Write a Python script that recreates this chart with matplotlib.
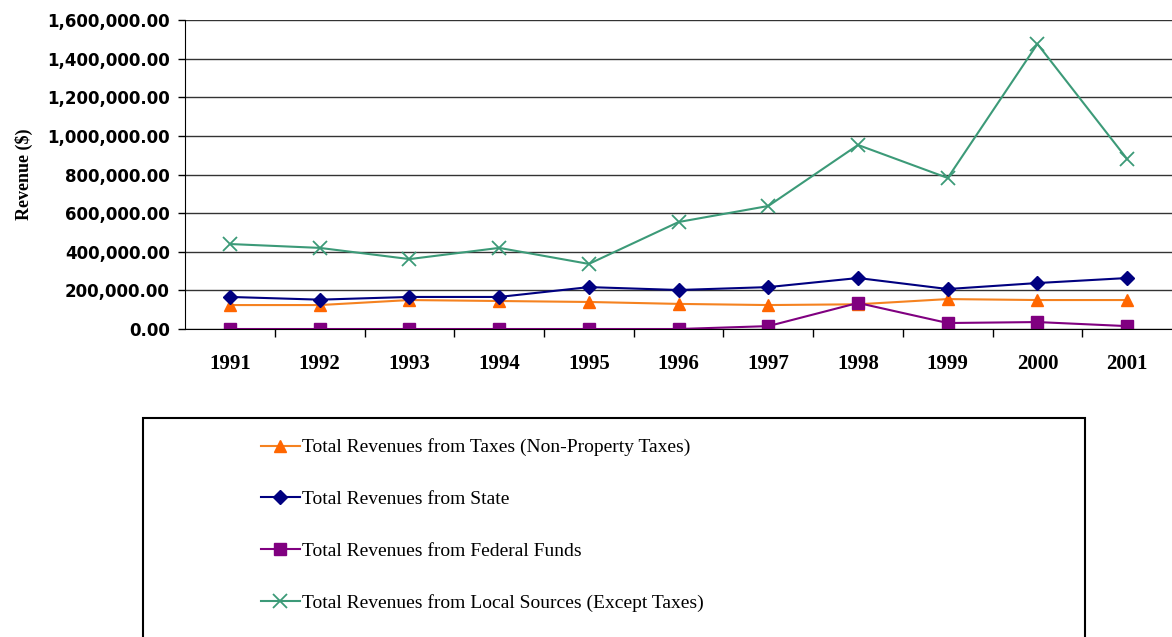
import matplotlib.pyplot as plt
from matplotlib.patches import Rectangle
from matplotlib.ticker import FuncFormatter, FixedLocator

years = ["1991", "1992", "1993", "1994", "1995", "1996", "1997", "1998", "1999", "2000", "2001"]

taxes = [124000, 124000, 150000, 145000, 140000, 130000, 124000, 128000, 155000, 150000, 150000]
state = [166000, 152000, 166000, 166000, 217000, 202000, 217000, 264000, 207000, 238000, 264000]
federal = [0, 0, 0, 0, 0, 0, 15000, 135000, 31000, 36000, 15000]
local = [440000, 420000, 362000, 420000, 337000, 554000, 637000, 953000, 782000, 1476000, 880000]

labels = [
    "Total Revenues from Taxes (Non-Property Taxes)",
    "Total Revenues from State",
    "Total Revenues from Federal Funds",
    "Total Revenues from Local Sources (Except Taxes)",
]

fig = plt.figure(figsize=(11.72, 6.37), dpi=100)
ax = fig.add_axes([0.158, 0.4835, 0.842, 0.4851])

x = range(len(years))
ax.plot(x, taxes, color="#F58220", marker="^", markersize=8, markerfacecolor="#FF6600",
        markeredgecolor="#FF6600", linewidth=1.5, label=labels[0])
ax.plot(x, state, color="#000080", marker="D", markersize=7, linewidth=1.5, label=labels[1])
ax.plot(x, federal, color="#800080", marker="s", markersize=8, linewidth=1.5, label=labels[2])
ax.plot(x, local, color="#3C9A78", marker="x", markersize=10, markeredgewidth=1.3,
        linewidth=1.5, label=labels[3])

ax.set_xlim(-0.5, len(years) - 0.5)
ax.set_ylim(0, 1600000)
ax.set_yticks(range(0, 1600001, 200000))
ax.yaxis.set_major_formatter(FuncFormatter(lambda v, p: f"{v:,.2f}"))
ax.grid(axis="y", color="#333333", linewidth=1)
ax.set_axisbelow(True)

ax.set_xticks(list(x))
ax.set_xticklabels(years, family="Liberation Serif", fontweight="bold", fontsize=15)
ax.xaxis.set_minor_locator(FixedLocator([i + 0.5 for i in range(len(years) - 1)]))
ax.tick_params(axis="x", which="major", length=0, pad=18)
ax.tick_params(axis="x", which="minor", length=6, width=1, direction="out")
ax.tick_params(axis="y", length=5, width=1, direction="out", pad=6)
for t in ax.get_yticklabels():
    t.set_fontweight("bold")
    t.set_fontsize(12)

for side in ["top", "right"]:
    ax.spines[side].set_visible(False)
ax.spines["left"].set_color("black")
ax.spines["bottom"].set_color("black")

ax.set_ylabel("Revenue ($)", family="Liberation Serif", fontweight="bold", fontsize=13, labelpad=10)

# legend box sits below the plot and runs off the bottom edge
fig.patches.append(Rectangle((143 / 1172, -0.02), (1085 - 143) / 1172, 1 - 418 / 637 + 0.02,
                             transform=fig.transFigure, fill=False, edgecolor="black", linewidth=1.5))
fig.legend(loc="upper left", bbox_to_anchor=(243 / 1172, 1 - 421 / 637), frameon=False,
           prop={"family": "Liberation Serif", "size": 14}, handlelength=2.05, handletextpad=0.1,
           labelspacing=1.75)

fig.savefig("out.png", dpi=100)
